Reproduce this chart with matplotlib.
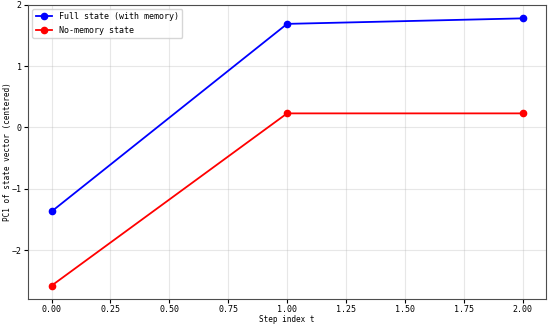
import numpy as np
import matplotlib
matplotlib.use('Agg')
import matplotlib.pyplot as plt

plt.rcParams['font.family'] = ['DejaVu Sans Mono', 'DejaVu Sans']
plt.rcParams['font.size'] = 6
plt.rcParams['axes.edgecolor'] = '0.3'

# step index and PC1 values
steps = [0, 1, 2]
full_state = [-1.37, 1.69, 1.78]
no_memory = [-2.58, 0.23, 0.23]

fig = plt.figure(figsize=(5.5, 3.25), dpi=100)
ax = fig.add_axes([0.051, 0.08, 0.942, 0.905])

ax.plot(steps, full_state, '-o', color='blue', lw=1.3, ms=4.5, label='Full state (with memory)')
ax.plot(steps, no_memory, '-o', color='red', lw=1.3, ms=4.5, label='No-memory state')

ax.set_xticks(np.arange(0, 2.01, 0.25))
ax.set_yticks([-2, -1, 0, 1, 2])
ax.grid(True, alpha=0.3)
ax.set_xlabel('Step index t', fontsize=5.5)
ax.set_ylabel('PC1 of state vector (centered)', fontsize=5.5)
ax.xaxis.set_label_coords(0.5, -0.056)
ax.yaxis.set_label_coords(-0.031, 0.5)
ax.tick_params(length=3, pad=1.5, labelsize=6)
ax.legend(loc='upper left', fontsize=6)

fig.savefig('out.png', dpi=100)
